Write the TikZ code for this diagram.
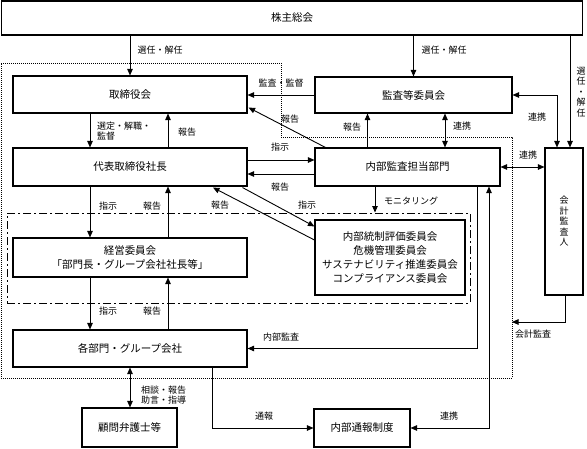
\documentclass[tikz,border=0pt]{standalone}
\usepackage{fontspec}
\setmainfont{Noto Sans CJK JP}
\usetikzlibrary{arrows.meta,calc}
\begin{document}
\begin{tikzpicture}[x=1pt,y=-1pt,
  box/.style={draw,line width=1.1pt,inner sep=0pt,align=center,font=\fontsize{10.5}{14}\selectfont},
  lbl/.style={font=\fontsize{9}{10.5}\selectfont,inner sep=0pt},
  vlbl/.style={font=\fontsize{9}{10.5}\selectfont,inner sep=0pt,align=center},
  arr/.style={line width=0.9pt,-{Triangle[length=6.5pt,width=5.5pt]}},
  arrb/.style={line width=0.9pt,{Triangle[length=6.5pt,width=5.5pt]}-{Triangle[length=6.5pt,width=5.5pt]}},
  dotln/.style={line width=1pt,dash pattern=on 1pt off 1pt},
  dashdot/.style={line width=1pt,dash pattern=on 8pt off 3pt on 2pt off 3pt}]
\useasboundingbox (0,0) rectangle (587,448);

% frames
\draw[dotln] (1,63) -- (281,63) -- (281,137) -- (512,137) -- (512,378) -- (1,378) -- cycle;
\node[draw,dashdot,inner sep=0pt,minimum width=463pt,minimum height=90pt] (grp) at (238.5,258) {};

% boxes
\node[box,minimum width=581pt,minimum height=34pt] (sh) at (292,18) {株主総会};
\node[box,minimum width=234pt,minimum height=37pt] (tb) at (130,94.5) {取締役会};
\node[box,minimum width=197pt,minimum height=36pt] (ka) at (413.5,95) {監査等委員会};
\node[box,minimum width=234pt,minimum height=38pt] (dr) at (130,167) {代表取締役社長};
\node[box,minimum width=185pt,minimum height=38pt] (na) at (407.5,167) {内部監査担当部門};
\node[box,minimum width=38pt,minimum height=147pt,font=\fontsize{9}{10.5}\selectfont] (kk) at (564,221.5) {会\\計\\監\\査\\人};
\node[box,minimum width=234pt,minimum height=39pt] (ke) at (130,257.5) {経営委員会\\「部門長・グループ会社社長等」};
\node[box,minimum width=150pt,minimum height=75pt,font=\fontsize{10.5}{13.7}\selectfont] (ic) at (390,257.5) {内部統制評価委員会\\危機管理委員会\\サステナビリティ推進委員会\\コンプライアンス委員会};
\node[box,minimum width=234pt,minimum height=37pt] (bu) at (130,348.5) {各部門・グループ会社};
\node[box,minimum width=95pt,minimum height=39pt] (ko) at (129.5,427.5) {顧問弁護士等};
\node[box,minimum width=96pt,minimum height=38pt] (ts) at (362,428) {内部通報制度};

% connectors from shareholders
\draw[arr] (tb.north |- sh.south) -- (tb.north);
\draw[arr] (ka.north |- sh.south) -- (ka.north);
\coordinate (kkA) at ($(kk.north)+(6,0)$);
\draw[arr] (kkA |- sh.south) -- (kkA);
\coordinate (kkB) at ($(kk.north)+(-7,0)$);
\draw[arrb] (ka.east) -| (kkB);

% board level
\draw[arr] (ka.west) -- (ka.west -| tb.east);
\coordinate (tbL) at ($(tb.south)+(-40,0)$);
\draw[arr] (tbL) -- (tbL |- dr.north);
\coordinate (tbR) at ($(tb.south)+(38,0)$);
\draw[arr] (tbR |- dr.north) -- (tbR);
\draw[arr] ($(na.north west)+(11,0)$) -- ($(tb.south east)+(1,-6)$);
\draw[arr] ($(dr.east)+(0,-7)$) -- ($(na.west)+(0,-7)$);
\draw[arr] ($(na.west)+(0,7)$) -- ($(dr.east)+(0,7)$);
\coordinate (naR) at ($(na.north)+(-40,0)$);
\draw[arr] (naR) -- (naR |- ka.south);
\coordinate (naK) at ($(na.north)+(37.5,0)$);
\draw[arrb] (naK |- ka.south) -- (naK);
\draw[arrb] (na.east) -- (na.east -| kk.west);

% president / management committee / departments
\coordinate (drL) at ($(dr.south)+(-40,0)$);
\draw[arr] (drL) -- (drL |- ke.north);
\coordinate (drR) at ($(dr.south)+(38,0)$);
\draw[arr] (drR |- ke.north) -- (drR);
\coordinate (keL) at ($(ke.south)+(-40,0)$);
\draw[arr] (keL) -- (keL |- bu.north);
\coordinate (keR) at ($(ke.south)+(38,0)$);
\draw[arr] (keR |- bu.north) -- (keR);
\draw[arr] ($(ic.west)+(0,-17.5)$) -- ($(dr.south)+(83,1)$);
\draw[arr] ($(dr.south east)+(-5,1)$) -- ($(ic.north west)+(0,7)$);

% internal audit
\coordinate (mon) at ($(na.south)+(-32.5,0)$);
\draw[arr] (mon) -- (mon |- grp.north);
\coordinate (kaend) at (512,322);
\draw[arr] ($(kk.south)+(1,0)$) |- (kaend);
\draw[arr] ($(na.south)+(69.5,0)$) |- (bu.east);
\draw[arrb] (ts.east) -| ($(na.south)+(81.5,0)$);
\draw[arr] ($(bu.south)+(82,0)$) |- (ts.west);
\draw[arrb] (bu.south) -- (bu.south |- ko.north);

% labels
\node[lbl] (l1) at (160,50) {選任・解任};
\node[lbl] (l2) at (444,50) {選任・解任};
\node[vlbl] (l3) at (581,92) {選\\任\\・\\解\\任};
\node[lbl] (l4) at (281,83) {監査・監督};
\node[lbl] (l5) at (290,119) {報告};
\node[lbl] (l6) at (352,127) {報告};
\node[lbl] (l7) at (462,126) {連携};
\node[lbl] (l8) at (537,117) {連携};
\node[lbl] (l9) at (528,155) {連携};
\node[lbl,align=left,anchor=west] (l10) at (97,131) {選定・解職・\\監督};
\node[lbl] (l11) at (187,132) {報告};
\node[lbl] (l12) at (280,147) {指示};
\node[lbl] (l13) at (280,187) {報告};
\node[lbl] (l14) at (220,205) {報告};
\node[lbl] (l15) at (307,205) {指示};
\node[lbl] (l16) at (108,206) {指示};
\node[lbl] (l17) at (152,206) {報告};
\node[lbl] (l18) at (108,311) {指示};
\node[lbl] (l19) at (152,311) {報告};
\node[lbl] (l20) at (411,201) {モニタリング};
\node[lbl] (l21) at (281,337) {内部監査};
\node[lbl] (l22) at (533,334) {会計監査};
\node[lbl,align=left,anchor=west] (l23) at (141,395) {相談・報告\\助言・指導};
\node[lbl] (l24) at (264,416) {通報};
\node[lbl] (l25) at (449,416) {連携};
\end{tikzpicture}
\end{document}
